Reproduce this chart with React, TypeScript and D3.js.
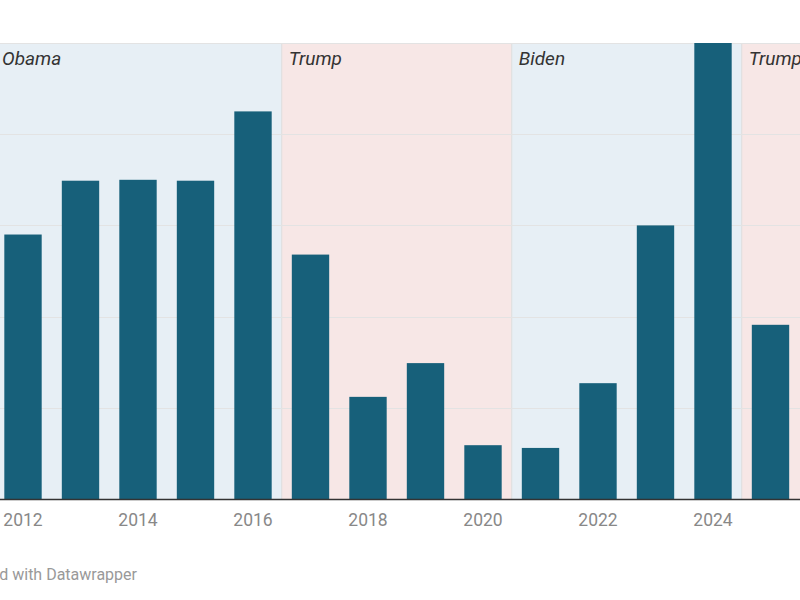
import { useEffect, useRef } from "react";
import * as d3 from "d3";

const years = [2012, 2013, 2014, 2015, 2016, 2017, 2018, 2019, 2020, 2021, 2022, 2023, 2024, 2025];
const values = [2.9, 3.49, 3.5, 3.49, 4.25, 2.68, 1.12, 1.49, 0.59, 0.56, 1.27, 3.0, 5.0, 1.91];
const tickYears = [2012, 2014, 2016, 2018, 2020, 2022, 2024];
const presidents = ["Obama", "Trump", "Biden", "Trump"];
const termFirstYear = [2009, 2017, 2021, 2025];
const termLastYear = [2016, 2020, 2024, 2028];
const parties = ["D", "R", "D", "R"];
const gridValues = [0, 1, 2, 3, 4, 5];

export default function App() {
  const svgRef = useRef<SVGSVGElement>(null);

  useEffect(() => {
    const width = 800;
    const height = 600;
    const margin = { top: 43, bottom: 101 };
    const step = 57.5;
    const left = 23 - step / 2;

    const svg = d3.select(svgRef.current).attr("width", width).attr("height", height);
    svg.selectAll("*").remove();

    const x = d3
      .scaleBand<number>()
      .domain(years)
      .range([left, left + step * years.length])
      .paddingInner(0.35)
      .paddingOuter(0.175);

    const y = d3
      .scaleLinear()
      .domain([0, 5])
      .range([height - margin.bottom, margin.top]);

    // left edge of a year's slot (middle of the gap before its bar)
    const slotX = (yr: number) => left + (yr - years[0]) * x.step();

    // background shading per term
    const terms = presidents.map((name, i) => ({
      name,
      party: parties[i],
      x0: Math.max(-5, slotX(termFirstYear[i])),
      x1: Math.min(width + 5, slotX(termLastYear[i] + 1)),
    }));

    svg
      .selectAll(".term")
      .data(terms)
      .enter()
      .append("rect")
      .attr("x", (d) => d.x0)
      .attr("y", y(5))
      .attr("width", (d) => d.x1 - d.x0)
      .attr("height", y(0) - y(5))
      .attr("fill", (d) => (d.party === "D" ? "#e7eff5" : "#f7e7e6"));

    svg
      .selectAll(".sep")
      .data(terms.slice(1))
      .enter()
      .append("line")
      .attr("x1", (d) => d.x0)
      .attr("x2", (d) => d.x0)
      .attr("y1", y(5))
      .attr("y2", y(0))
      .attr("stroke", "#dddddd")
      .attr("stroke-width", 1);

    // gridlines
    svg
      .selectAll(".grid")
      .data(gridValues.slice(1))
      .enter()
      .append("line")
      .attr("x1", 0)
      .attr("x2", width)
      .attr("y1", (d) => Math.round(y(d)) + 0.5)
      .attr("y2", (d) => Math.round(y(d)) + 0.5)
      .attr("stroke", "#e3e3e3")
      .attr("stroke-width", 1);

    // term labels
    svg
      .selectAll(".label")
      .data(terms)
      .enter()
      .append("text")
      .attr("x", (d, i) => (i === 0 ? 2 : d.x0 + 7))
      .attr("y", y(5) + 22)
      .attr("font-family", "Roboto, sans-serif")
      .attr("font-style", "italic")
      .attr("font-size", 19)
      .attr("fill", "#333333")
      .text((d) => d.name);

    // bars
    svg
      .selectAll(".bar")
      .data(years.map((yr, i) => ({ yr, v: values[i] })))
      .enter()
      .append("rect")
      .attr("x", (d) => x(d.yr)!)
      .attr("y", (d) => y(d.v))
      .attr("width", x.bandwidth())
      .attr("height", (d) => y(0) - y(d.v))
      .attr("fill", "#17607a");

    // baseline
    svg
      .append("line")
      .attr("x1", 0)
      .attr("x2", width)
      .attr("y1", y(0) + 0.5)
      .attr("y2", y(0) + 0.5)
      .attr("stroke", "#333333")
      .attr("stroke-width", 1.5);

    // x labels
    svg
      .selectAll(".xlab")
      .data(tickYears)
      .enter()
      .append("text")
      .attr("x", (d) => x(d)! + x.bandwidth() / 2)
      .attr("y", y(0) + 27)
      .attr("text-anchor", "middle")
      .attr("font-family", "Roboto, sans-serif")
      .attr("font-size", 17.5)
      .attr("fill", "#888888")
      .text((d) => d);

    // footer
    svg
      .append("text")
      .attr("x", 137)
      .attr("y", 580)
      .attr("text-anchor", "end")
      .attr("font-family", "Roboto, sans-serif")
      .attr("font-size", 16)
      .attr("fill", "#999999")
      .text("Created with Datawrapper");
  }, []);

  return (
    <div>
      <svg ref={svgRef} style={{ position: "absolute", left: 0, top: 0 }}></svg>
    </div>
  );
}
